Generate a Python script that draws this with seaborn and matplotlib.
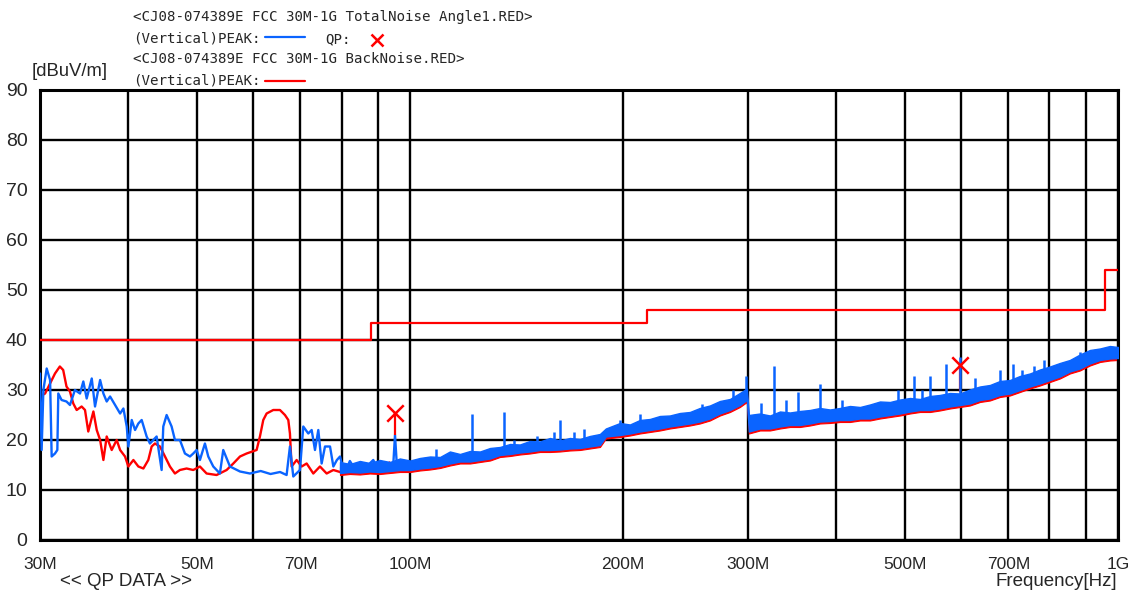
#!/usr/bin/env python3
"""
Grafico de emissao irradiada (FCC 30M-1G): ruido total x ruido de fundo,
linha limite e pontos QP. Valores lidos a olho do grafico original.
"""
import matplotlib
matplotlib.use("Agg")
import matplotlib.pyplot as plt
import seaborn as sns
from matplotlib.lines import Line2D

AZUL = "#0a64ff"
VERMELHO = "#ff0000"

# ----- Linha limite (MHz, dBuV/m) -----
LIMITE_FREQ = [30, 88, 216, 960, 1000]
LIMITE_NIVEL = [40.0, 43.5, 46.0, 54.0, 54.0]

# ----- Trecho baixo (30M-97M), ponto a ponto -----
TOTAL_FREQ = [30.0, 30.16, 30.33, 30.66, 31.0, 31.16, 31.5, 31.74, 31.84, 32.18,
              32.7, 33.07, 33.61, 34.17, 34.54, 34.92, 35.5, 35.88, 36.48, 36.87,
              37.27, 37.68, 38.3, 38.93, 39.35, 39.78, 39.99, 40.43, 40.87, 41.31,
              41.76, 42.44, 42.9, 43.37, 43.84, 44.56, 44.8, 45.29, 46.03, 46.53,
              47.29, 48.07, 48.86, 49.39, 49.93, 50.47, 51.3, 51.86, 52.71, 53.86,
              54.45, 55.65, 57.5, 59.39, 61.5, 63.5, 65.5, 66.91, 67.64, 68.38,
              69.88, 70.64, 71.8, 72.59, 73.38, 74.18, 74.99, 75.81, 77.06, 77.9,
              78.8, 79.61, 80.5, 81.35, 82.2, 83.13, 84.5, 86.8, 88.7, 90.0,
              91.63, 93.0, 94.7, 95.2, 95.72, 97.5]
TOTAL_NIVEL = [33.3, 18.0, 30.0, 34.3, 32.0, 16.7, 17.3, 18.0, 29.3, 28.0,
               27.7, 27.0, 30.0, 29.3, 31.7, 28.3, 32.3, 26.7, 32.0, 29.3,
               27.7, 28.7, 27.0, 25.3, 26.3, 22.7, 18.7, 24.0, 22.0, 23.3,
               24.0, 20.7, 19.3, 20.0, 20.7, 14.0, 22.7, 25.0, 22.7, 20.0,
               20.0, 17.3, 16.7, 17.3, 18.0, 16.0, 19.3, 16.7, 14.7, 13.3,
               18.0, 14.7, 13.7, 13.3, 13.8, 13.2, 13.6, 13.0, 18.7, 12.7,
               14.0, 22.7, 21.3, 22.0, 18.0, 22.0, 15.3, 18.7, 18.7, 14.7,
               16.0, 16.7, 14.0, 14.3, 15.8, 14.7, 13.8, 14.7, 16.0, 14.2,
               15.3, 14.5, 15.5, 21.0, 15.5, 14.4]

FUNDO_FREQ = [30.0, 30.5, 31.0, 31.5, 32.0, 32.35, 32.7, 33.07, 33.43, 33.8,
              34.35, 34.73, 35.1, 35.69, 36.08, 36.48, 36.87, 37.27, 37.88, 38.5,
              38.93, 39.56, 39.99, 40.65, 41.31, 41.99, 42.67, 43.14, 43.6, 44.32,
              45.05, 45.78, 46.53, 47.29, 48.33, 49.39, 50.47, 51.58, 53.28, 55.05,
              56.26, 57.5, 58.75, 60.69, 61.35, 62.02, 62.7, 64.07, 65.48, 66.55,
              67.28, 67.64, 68.01, 69.13, 70.26, 71.42, 72.98, 74.58, 76.22, 77.9,
              79.6, 81.35, 83.13, 84.8, 86.8, 88.7, 91.6, 93.5, 94.7, 97.0]
FUNDO_NIVEL = [28.7, 29.3, 31.3, 33.3, 34.7, 34.0, 30.7, 29.7, 27.3, 26.0,
               26.7, 26.0, 21.7, 25.7, 22.0, 20.0, 16.0, 20.7, 18.0, 20.0,
               18.0, 16.7, 14.7, 16.0, 14.7, 14.3, 16.0, 18.7, 19.3, 18.7,
               16.7, 14.7, 13.3, 14.0, 14.3, 14.0, 14.7, 13.3, 13.0, 14.0,
               15.3, 16.7, 17.3, 18.0, 20.7, 24.0, 25.3, 26.0, 26.0, 25.0,
               24.0, 21.3, 14.7, 16.0, 14.7, 15.3, 13.3, 14.7, 13.3, 14.0,
               13.6, 14.2, 13.8, 14.6, 14.3, 13.9, 14.4, 15.5, 14.0, 14.2]

# ----- Trecho alto: faixa densa (envelope inferior / superior) -----
FAIXA_FREQ = [79.6, 82.2, 84.9, 87.7, 90.6, 93.6, 96.7, 100.0, 103.2, 106.7,
              110.2, 113.8, 117.6, 121.5, 125.5, 129.7, 133.9, 138.4, 142.9, 147.6,
              152.5, 157.6, 162.8, 168.1, 173.7, 179.4, 185.4, 189.0, 197.9, 204.4,
              211.1, 218.1, 225.3, 232.7, 240.5, 248.4, 256.6, 265.1, 273.9, 283.0,
              292.3, 299.0, 301.0, 312.0, 322.3, 333.0, 344.0, 355.3, 367.1, 379.2,
              391.7, 404.7, 418.1, 432.0, 446.2, 461.0, 476.3, 492.1, 508.3, 525.1,
              542.5, 560.0, 578.8, 598.0, 617.6, 638.1, 659.2, 681.0, 703.6, 726.8,
              750.7, 775.6, 801.3, 827.7, 855.0, 883.4, 912.6, 942.8, 973.9, 1000.0]
TOTAL_INF = [13.4, 13.6, 13.5, 13.7, 13.6, 13.8, 14.0, 14.0, 14.3, 14.5,
             14.8, 15.3, 15.7, 15.7, 16.0, 16.3, 17.0, 17.2, 17.5, 17.7,
             18.0, 18.0, 18.1, 18.3, 18.4, 18.7, 19.0, 20.7, 21.0, 21.3,
             21.7, 22.0, 22.3, 22.7, 23.0, 23.3, 23.7, 24.3, 25.3, 26.0,
             27.0, 28.0, 21.7, 22.3, 22.3, 22.7, 23.0, 23.0, 23.3, 23.7,
             23.8, 24.0, 24.0, 24.3, 24.3, 24.7, 25.0, 25.3, 25.7, 26.0,
             26.0, 26.3, 26.7, 27.0, 27.3, 28.0, 28.3, 29.0, 29.3, 30.0,
             30.7, 31.3, 32.0, 32.7, 33.7, 34.3, 35.3, 36.0, 36.3, 36.4]
TOTAL_SUP = [15.6, 15.2, 15.8, 15.4, 16.0, 15.6, 16.3, 15.9, 16.4, 16.7,
             16.6, 17.7, 17.2, 17.8, 17.7, 18.4, 18.6, 19.2, 19.1, 19.8,
             19.7, 20.4, 19.9, 20.4, 20.2, 20.8, 21.2, 22.3, 23.4, 23.1,
             24.0, 24.2, 24.8, 24.9, 25.4, 25.6, 26.4, 26.9, 27.8, 28.2,
             29.4, 30.3, 25.0, 25.3, 24.9, 25.7, 25.5, 25.8, 26.0, 26.4,
             26.1, 26.4, 26.8, 26.6, 27.1, 27.7, 27.6, 28.1, 28.4, 28.2,
             28.8, 29.0, 29.4, 29.3, 30.1, 30.7, 31.0, 31.8, 32.0, 32.8,
             33.3, 34.1, 34.7, 35.4, 36.0, 37.1, 38.0, 38.3, 38.8, 38.6]
FUNDO_INF = [13.0, 13.2, 13.1, 13.3, 13.2, 13.4, 13.6, 13.6, 13.9, 14.1,
             14.4, 14.9, 15.3, 15.3, 15.6, 15.9, 16.6, 16.8, 17.1, 17.3,
             17.6, 17.6, 17.7, 17.9, 18.0, 18.3, 18.6, 20.3, 20.6, 20.9,
             21.3, 21.6, 21.9, 22.3, 22.6, 22.9, 23.3, 23.9, 24.9, 25.6,
             26.6, 27.6, 21.3, 21.9, 21.9, 22.3, 22.6, 22.6, 22.9, 23.3,
             23.4, 23.6, 23.6, 23.9, 23.9, 24.3, 24.6, 24.9, 25.3, 25.6,
             25.6, 25.9, 26.3, 26.6, 26.9, 27.6, 27.9, 28.6, 28.9, 29.6,
             30.3, 30.9, 31.6, 32.3, 33.3, 33.9, 34.9, 35.6, 35.9, 36.0]
FUNDO_SUP = [14.7, 14.3, 14.9, 14.5, 15.1, 14.7, 15.4, 15.0, 15.5, 15.8,
             15.7, 16.8, 16.3, 16.9, 16.8, 17.5, 17.7, 18.3, 18.2, 18.9,
             18.8, 19.5, 19.0, 19.5, 19.3, 19.9, 20.3, 21.4, 22.5, 22.2,
             23.1, 23.3, 23.9, 24.0, 24.5, 24.7, 25.5, 26.0, 26.9, 27.3,
             28.5, 29.4, 24.1, 24.4, 24.0, 24.8, 24.6, 24.9, 25.1, 25.5,
             25.2, 25.5, 25.9, 25.7, 26.2, 26.8, 26.7, 27.2, 27.5, 27.3,
             27.9, 28.1, 28.5, 28.4, 29.2, 29.8, 30.1, 30.9, 31.1, 31.9,
             32.4, 33.2, 33.8, 34.5, 35.1, 36.2, 37.1, 37.4, 37.9, 37.7]

# Picos isolados do ruido total
PICO_FREQ = [108.7, 122.1, 135.7, 140.0, 151.0, 159.6, 162.8, 170.4, 176.0, 197.9,
             211.0, 258.0, 286.0, 298.1, 312.7, 326.8, 339.7, 353.4, 379.2, 407.7,
             489.4, 515.4, 529.0, 542.2, 572.4, 598.0, 627.7, 681.0, 709.6, 732.0,
             761.4, 785.7, 818.7, 883.2]
PICO_TOPO = [18.3, 25.2, 25.7, 20.0, 20.8, 21.7, 24.0, 21.7, 22.3, 24.0,
             25.3, 27.3, 30.0, 32.8, 27.5, 34.8, 28.0, 29.7, 31.2, 28.0,
             30.0, 32.8, 30.0, 32.8, 35.2, 36.7, 32.5, 34.0, 35.2, 34.0,
             34.8, 36.0, 35.0, 37.7]
PICO_BASE = [15.5, 16.0, 17.5, 18.5, 19.0, 19.5, 19.0, 19.8, 19.5, 22.5,
             23.5, 25.5, 27.0, 28.5, 24.0, 24.0, 24.5, 25.0, 25.5, 25.5,
             27.0, 27.5, 27.5, 28.0, 28.5, 28.5, 29.5, 30.5, 31.0, 31.5,
             32.5, 33.0, 34.0, 36.0]

# Pontos QP
QP_FREQ = [95.2, 598.0]
QP_NIVEL = [25.4, 35.0]
QP_BASE = [21.0, 29.7]

# Grade / rotulos do eixo X
GRADE_FREQ = [30, 40, 50, 60, 70, 80, 90, 100, 200, 300, 400, 500, 600, 700, 800, 900, 1000]
GRADE_ROTULO = ["30M", "", "50M", "", "70M", "", "", "100M", "200M", "300M", "",
                "500M", "", "700M", "", "", "1G"]
Y_TICKS = list(range(0, 100, 10))

LARG, ALT = 1138, 595


def px(x, y):
    """Converte pixel (origem no topo) para fracao da figura."""
    return x / LARG, 1 - y / ALT


def main() -> None:
    sns.set_style("white")
    plt.rcParams["font.family"] = ["Liberation Sans", "DejaVu Sans"]

    fig = plt.figure(figsize=(LARG / 100, ALT / 100), dpi=100)
    ax = fig.add_axes([40 / LARG, 1 - 540 / ALT, 1078 / LARG, 450 / ALT])
    ax.set_xscale("log")

    # ruido de fundo (vermelho) por baixo
    ax.fill_between(FAIXA_FREQ, FUNDO_INF, FUNDO_SUP, color=VERMELHO, lw=0.8, zorder=2)
    sns.lineplot(x=FUNDO_FREQ, y=FUNDO_NIVEL, ax=ax, color=VERMELHO, lw=1.7,
                 sort=False, estimator=None, zorder=2)

    # ruido total (azul)
    ax.fill_between(FAIXA_FREQ, TOTAL_INF, TOTAL_SUP, color=AZUL, lw=1.0, zorder=3)
    sns.lineplot(x=TOTAL_FREQ, y=TOTAL_NIVEL, ax=ax, color=AZUL, lw=1.7,
                 sort=False, estimator=None, zorder=3)

    # haste dos QP e picos
    ax.vlines(QP_FREQ, QP_BASE, QP_NIVEL, color=VERMELHO, lw=1.6, zorder=3)
    ax.vlines(PICO_FREQ, PICO_BASE, PICO_TOPO, color=AZUL, lw=1.8, zorder=4)

    # linha limite
    sns.lineplot(x=LIMITE_FREQ, y=LIMITE_NIVEL, ax=ax, color=VERMELHO, lw=1.6,
                 drawstyle="steps-post", sort=False, estimator=None, zorder=5)

    sns.scatterplot(x=QP_FREQ, y=QP_NIVEL, ax=ax, marker="x", color=VERMELHO,
                    s=140, linewidth=1.8, zorder=6)

    ax.set_xlim(30, 1000)
    ax.set_ylim(0, 90)
    ax.set_xticks(GRADE_FREQ, GRADE_ROTULO)
    ax.xaxis.set_minor_locator(matplotlib.ticker.NullLocator())
    ax.set_yticks(Y_TICKS)
    ax.grid(True, color="black", lw=1.7)
    ax.set_axisbelow(True)
    for s in ax.spines.values():
        s.set_color("black")
        s.set_linewidth(2.2)
    ax.tick_params(axis="both", length=0)
    ax.tick_params(axis="y", pad=9, labelsize=14)
    ax.tick_params(axis="x", pad=12, labelsize=12.5)

    # cabecalho
    mono = dict(family=["DejaVu Sans Mono"], fontsize=10.2, va="center", ha="left")
    fig.text(*px(133, 17), "<CJ08-074389E FCC 30M-1G TotalNoise Angle1.RED>", **mono)
    fig.text(*px(133, 39), "(Vertical)PEAK:", **mono)
    fig.text(*px(325, 39), "QP:", **mono)
    fig.text(*px(133, 59), "<CJ08-074389E FCC 30M-1G BackNoise.RED>", **mono)
    fig.text(*px(133, 81), "(Vertical)PEAK:", **mono)

    x0, y0 = px(265, 37)
    x1, _ = px(305, 37)
    fig.add_artist(Line2D([x0, x1], [y0, y0], color=AZUL, lw=1.6, transform=fig.transFigure))
    x0, y0 = px(265, 81)
    fig.add_artist(Line2D([x0, x1], [y0, y0], color=VERMELHO, lw=1.6, transform=fig.transFigure))
    xm, ym = px(377, 40)
    fig.add_artist(Line2D([xm], [ym], marker="x", color=VERMELHO, ms=9, mew=1.8,
                          transform=fig.transFigure))

    fig.text(*px(32, 71), "[dBuV/m]", fontsize=13.3, va="center", ha="left")
    rodape = dict(fontsize=13.5, va="center")
    fig.text(*px(60, 582), "<< QP DATA >>", ha="left", **rodape)
    fig.text(*px(1117, 582), "Frequency[Hz]", ha="right", **rodape)

    fig.savefig("out.png", dpi=100)
    plt.close(fig)


if __name__ == "__main__":
    main()
